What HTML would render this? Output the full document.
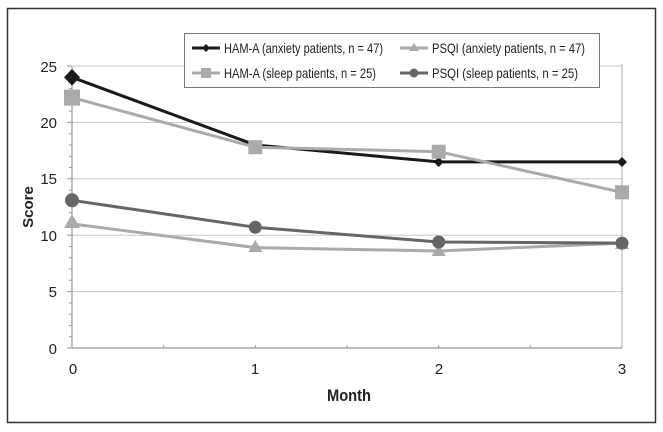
<!DOCTYPE html>
<html><head><meta charset="utf-8"><style>
body{margin:0;background:#fff;}
svg{display:block;font-family:"Liberation Sans",Arial,sans-serif;}
</style></head><body>
<svg width="663" height="432" viewBox="0 0 663 432">
<rect x="7.5" y="8.5" width="648" height="414" fill="#fff" stroke="#333" stroke-width="1.5"/>
<g stroke="#c8c8c8" stroke-width="1">
<line x1="72" y1="66" x2="622" y2="66"/>
<line x1="72" y1="122.4" x2="622" y2="122.4"/>
<line x1="72" y1="178.8" x2="622" y2="178.8"/>
<line x1="72" y1="235.2" x2="622" y2="235.2"/>
<line x1="72" y1="291.6" x2="622" y2="291.6"/>
</g>
<line x1="622" y1="64" x2="622" y2="348" stroke="#aaa"/>
<line x1="72" y1="66" x2="72" y2="348" stroke="#999" stroke-width="1.2"/>
<line x1="72" y1="348" x2="622" y2="348" stroke="#999" stroke-width="1.2"/>
<g stroke="#999" stroke-width="1">
<line x1="67" y1="66" x2="72" y2="66"/><line x1="67" y1="122.4" x2="72" y2="122.4"/><line x1="67" y1="178.8" x2="72" y2="178.8"/><line x1="67" y1="235.2" x2="72" y2="235.2"/><line x1="67" y1="291.6" x2="72" y2="291.6"/><line x1="67" y1="348" x2="72" y2="348"/>
<path d="M69 77.3h3M69 88.6h3M69 99.8h3M69 111.1h3M69 133.7h3M69 145h3M69 156.2h3M69 167.5h3M69 190.1h3M69 201.4h3M69 212.6h3M69 223.9h3M69 246.5h3M69 257.8h3M69 269h3M69 280.3h3M69 302.9h3M69 314.2h3M69 325.4h3M69 336.7h3"/>
<path d="M163.7 345v3M255.3 345v3M347 345v3M438.7 345v3M530.3 345v3"/>
</g>
<g font-size="15" fill="#222" text-anchor="end">
<text x="57" y="72">25</text><text x="57" y="128">20</text><text x="57" y="184">15</text><text x="57" y="241">10</text><text x="57" y="297">5</text><text x="57" y="354">0</text>
</g>
<g font-size="15" fill="#222" text-anchor="middle">
<text x="73" y="374">0</text><text x="255" y="374">1</text><text x="439" y="374">2</text><text x="622" y="374">3</text>
</g>
<text x="327" y="401" font-size="17" font-weight="bold" fill="#222" textLength="44" lengthAdjust="spacingAndGlyphs">Month</text>
<text transform="translate(33,207) rotate(-90)" font-size="15" font-weight="bold" text-anchor="middle" fill="#222">Score</text>
<polyline points="72,77.3 255.3,145 438.7,161.9 622,161.9" fill="none" stroke="#1a1a1a" stroke-width="3"/>
<polyline points="72,97.6 255.3,147.2 438.7,151.7 622,192.3" fill="none" stroke="#aaa" stroke-width="3"/>
<polyline points="72,223.9 255.3,247.6 438.7,251 622,243.1" fill="none" stroke="#aaa" stroke-width="3"/>
<polyline points="72,200.3 255.3,227.3 438.7,242 622,243.1" fill="none" stroke="#666" stroke-width="3"/>
<g fill="#1a1a1a">
<path d="M72 69l8 8.3-8 8.3-8-8.3z"/><path d="M255.3 140l5 5-5 5-5-5z"/><path d="M438.7 157l5 5-5 5-5-5z"/><path d="M622 157l5 5-5 5-5-5z"/>
</g>
<g fill="#aaa">
<rect x="64" y="89.6" width="16" height="16"/><rect x="248.3" y="140.2" width="14" height="14"/><rect x="431.7" y="144.7" width="14" height="14"/><rect x="615" y="185.3" width="14" height="14"/>
<path d="M72 214l8 14h-16z"/><path d="M255.3 240l7 12h-14z"/><path d="M438.7 244l7 12h-14z"/><path d="M622 237l7 12h-14z"/>
</g>
<g fill="#666">
<circle cx="72" cy="200.3" r="7"/><circle cx="255.3" cy="227.3" r="6.5"/><circle cx="438.7" cy="242" r="6.5"/><circle cx="622" cy="243.1" r="6.5"/>
</g>
<rect x="184.5" y="33.5" width="415" height="54" fill="#fff" stroke="#777"/>
<line x1="192" y1="48" x2="220" y2="48" stroke="#1a1a1a" stroke-width="3"/><path d="M206 44l4 4-4 4-4-4z" fill="#1a1a1a"/>
<line x1="192" y1="73" x2="220" y2="73" stroke="#aaa" stroke-width="3"/><rect x="201" y="68" width="10" height="10" fill="#aaa"/>
<line x1="400" y1="48" x2="428" y2="48" stroke="#aaa" stroke-width="3"/><path d="M414 43l5 8h-10z" fill="#aaa"/>
<line x1="400" y1="73" x2="428" y2="73" stroke="#666" stroke-width="3"/><circle cx="414" cy="73" r="4.5" fill="#666"/>
<g font-size="14" fill="#222">
<text x="224" y="53" textLength="159" lengthAdjust="spacingAndGlyphs">HAM-A (anxiety patients, n = 47)</text>
<text x="224" y="78" textLength="152" lengthAdjust="spacingAndGlyphs">HAM-A (sleep patients, n = 25)</text>
<text x="432" y="53" textLength="153" lengthAdjust="spacingAndGlyphs">PSQI (anxiety patients, n = 47)</text>
<text x="432" y="78" textLength="146" lengthAdjust="spacingAndGlyphs">PSQI (sleep patients, n = 25)</text>
</g>
</svg>
</body></html>
